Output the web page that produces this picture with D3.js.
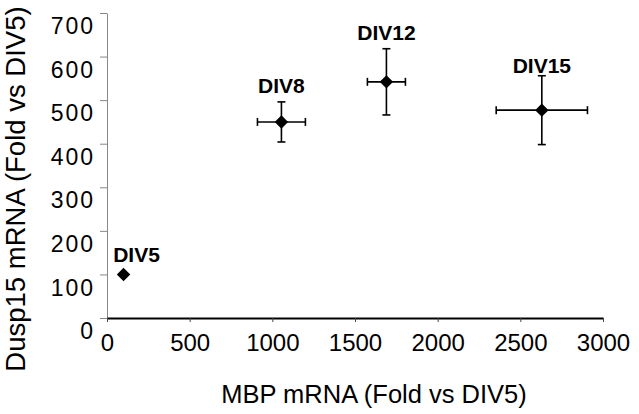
<!DOCTYPE html>
<html>
<head>
<meta charset="utf-8">
<script src="https://cdn.jsdelivr.net/npm/d3@7"></script>
<style>
body { margin: 0; background: #fff; }
text { font-family: "Liberation Sans", Arial, sans-serif; fill: #000; }
</style>
</head>
<body>
<script>
// data
var labels = ["DIV5", "DIV8", "DIV12", "DIV15"];
var mbp = [100, 1055, 1690, 2630];        // x
var mbpErr = [0, 145, 115, 276];
var dusp = [100, 450, 542, 477];          // y
var duspErr = [0, 46, 76, 79];
var xTicks = [0, 500, 1000, 1500, 2000, 2500, 3000];
var yTicks = [0, 100, 200, 300, 400, 500, 600, 700];

var width = 639,
	height = 414;

var svg = d3.select("body").append("svg")
	.attr("width", width)
	.attr("height", height);

var x = d3.scaleLinear().domain([0, 3000]).range([107, 603]);
var y = d3.scaleLinear().domain([0, 700]).range([318, 13]);

// y axis (grey, ticks outward)
var yAxis = svg.append("g")
	.attr("transform", "translate(" + x(0) + ",0)")
	.call(d3.axisLeft(y).tickValues(yTicks).tickFormat(d3.format("d")).tickSize(7).tickSizeOuter(0));
yAxis.select(".domain").attr("stroke", "#888");
yAxis.selectAll(".tick line").attr("stroke", "#888");
yAxis.selectAll(".tick text")
	.attr("x", -12)
	.attr("dy", "0.9em")
	.style("font-size", "23px")
	.style("letter-spacing", "2px")
	.attr("fill", "#000");

// x axis (black)
var xAxis = svg.append("g")
	.attr("transform", "translate(0," + y(0) + ")")
	.call(d3.axisBottom(x).tickValues(xTicks).tickFormat(d3.format("d")).tickSize(4).tickSizeOuter(0));
xAxis.select(".domain").attr("stroke", "#000").attr("stroke-width", 2);
xAxis.selectAll(".tick line").attr("stroke", "#444");
xAxis.selectAll(".tick text")
	.attr("y", 16)
	.style("font-size", "24px")
	.attr("fill", "#000");

// axis titles
svg.append("text")
	.attr("x", 374)
	.attr("y", 403)
	.attr("text-anchor", "middle")
	.style("font-size", "25.5px")
	.text("MBP mRNA (Fold vs DIV5)");

svg.append("text")
	.attr("transform", "translate(25,189) rotate(-90)")
	.attr("text-anchor", "middle")
	.style("font-size", "27.5px")
	.text("Dusp15 mRNA (Fold vs DIV5)");

// error bars
var pts = d3.range(labels.length).map(function(i){
	return {label: labels[i], x: mbp[i], xe: mbpErr[i], y: dusp[i], ye: duspErr[i]};
});

var cap = 4;
var g = svg.append("g").attr("stroke", "#000").attr("stroke-width", 1.6);
pts.filter(function(d){ return d.xe > 0; }).forEach(function(d){
	// horizontal
	g.append("line").attr("x1", x(d.x - d.xe)).attr("x2", x(d.x + d.xe)).attr("y1", y(d.y)).attr("y2", y(d.y));
	g.append("line").attr("x1", x(d.x - d.xe)).attr("x2", x(d.x - d.xe)).attr("y1", y(d.y) - cap).attr("y2", y(d.y) + cap);
	g.append("line").attr("x1", x(d.x + d.xe)).attr("x2", x(d.x + d.xe)).attr("y1", y(d.y) - cap).attr("y2", y(d.y) + cap);
	// vertical
	g.append("line").attr("x1", x(d.x)).attr("x2", x(d.x)).attr("y1", y(d.y - d.ye)).attr("y2", y(d.y + d.ye));
	g.append("line").attr("x1", x(d.x) - cap).attr("x2", x(d.x) + cap).attr("y1", y(d.y - d.ye)).attr("y2", y(d.y - d.ye));
	g.append("line").attr("x1", x(d.x) - cap).attr("x2", x(d.x) + cap).attr("y1", y(d.y + d.ye)).attr("y2", y(d.y + d.ye));
});

// diamond markers
svg.selectAll("path.pt").data(pts).enter().append("path")
	.attr("class", "pt")
	.attr("d", d3.symbol().type(d3.symbolSquare).size(90))
	.attr("transform", function(d){ return "translate(" + x(d.x) + "," + y(d.y) + ") rotate(45)"; })
	.attr("fill", "#000");

// point labels
var labelOff = [12, 29, 42, 37]; // px above point
svg.selectAll("text.lab").data(pts).enter().append("text")
	.attr("class", "lab")
	.attr("x", function(d, i){ return i == 0 ? x(d.x) + 13 : x(d.x); })
	.attr("y", function(d, i){ return y(d.y) - labelOff[i]; })
	.attr("text-anchor", "middle")
	.style("font-size", "21px")
	.style("font-weight", "bold")
	.text(function(d){ return d.label; });
</script>
</body>
</html>
